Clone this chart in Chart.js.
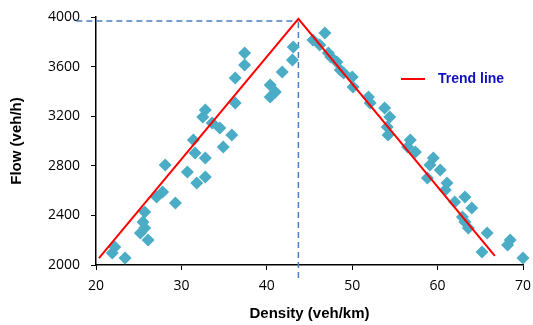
<!DOCTYPE html>
<html>
<head>
<meta charset="utf-8">
<script src="https://cdn.jsdelivr.net/npm/chart.js@4"></script>
<style>
  html,body{margin:0;padding:0;background:#fff}
  #wrap{width:533px;height:325px;position:relative}
</style>
</head>
<body>
<div id="wrap"><canvas id="chartFlow"></canvas></div>
<script>
// measured density (veh/km) and flow (veh/h)
const density = [21.9,22.2,23.4,25.2,25.7,25.5,25.7,26.1,27.1,27.8,28.1,29.3,30.7,31.6,31.8,32.8,31.4,32.8,32.8,32.5,33.6,34.5,34.9,35.9,36.3,36.3,37.4,37.4,40.4,41.0,40.4,41.8,43.0,43.1,
  45.4,46.8,46.2,47.2,47.5,48.2,48.6,49.0,50.0,50.1,51.9,52.1,53.8,54.4,54.1,54.2,56.8,56.5,57.4,59.5,59.1,60.3,58.8,61.1,60.9,62.0,63.2,64.0,62.9,63.2,63.6,65.8,65.2,68.5,68.2,70.0];
const flow = [2097,2145,2056,2258,2298,2347,2427,2202,2548,2589,2806,2500,2750,2903,2661,2710,3008,2863,3250,3194,3145,3105,2952,3048,3306,3508,3613,3710,3452,3395,3355,3556,3653,3758,
  3815,3871,3774,3710,3677,3637,3573,3548,3516,3435,3355,3306,3266,3194,3113,3048,3008,2952,2911,2863,2806,2766,2702,2661,2605,2508,2548,2460,2387,2347,2298,2258,2105,2202,2161,2056];

// trend line (two branches meeting at capacity)
const trendX = [20.35, 43.7, 66.7];
const trendY = [2056, 3985, 2073];

// guide lines to the peak
const guideVX = [43.7, 43.7];
const guideVY = [1895, 3968];
const guideHX = [17.7, 43.7];
const guideHY = [3968, 3968];

const xTicks = [20, 30, 40, 50, 60, 70];
const yTicks = [2000, 2400, 2800, 3200, 3600, 4000];

const pts = (xs, ys) => xs.map((x, i) => ({x: x, y: ys[i]}));

const legendInside = {
  id: 'legendInside',
  afterDraw(chart) {
    const ctx = chart.ctx;
    const ds = chart.data.datasets[0];
    ctx.save();
    ctx.strokeStyle = ds.borderColor;
    ctx.lineWidth = 2;
    ctx.beginPath();
    ctx.moveTo(401, 79);
    ctx.lineTo(425, 79);
    ctx.stroke();
    ctx.fillStyle = '#1010C0';
    ctx.font = 'bold 14px "Liberation Sans", Arial, sans-serif';
    ctx.textBaseline = 'middle';
    ctx.fillText(ds.label, 438, 79);
    ctx.restore();
  }
};

const tickFont = {family: '"Open Sans", sans-serif', size: 14};
const titleFont = {family: '"Liberation Sans", Arial, sans-serif', size: 15, weight: 'bold'};

new Chart(document.getElementById('chartFlow'), {
  type: 'scatter',
  data: {datasets: [
    {label: 'Trend line', data: pts(trendX, trendY), showLine: true, borderColor: '#FF0000', borderWidth: 2,
      pointRadius: 0, order: 0},
    {label: 'Observed', data: pts(density, flow), pointStyle: 'rectRot', pointRadius: 6.5,
      backgroundColor: '#4BACC6', borderWidth: 0, clip: 8, order: 1},
    {label: 'v', data: pts(guideVX, guideVY), showLine: true, borderColor: '#4A7EC4', borderWidth: 1.5,
      borderDash: [6, 4], pointRadius: 0, clip: false, order: 2},
    {label: 'h', data: pts(guideHX, guideHY), showLine: true, borderColor: '#4A7EC4', borderWidth: 1.5,
      borderDash: [6, 4], pointRadius: 0, clip: false, order: 2}
  ]},
  options: {
    responsive: true,
    maintainAspectRatio: false,
    animation: false,
    events: [],
    layout: {padding: {top: 17, right: 10, left: 0, bottom: 0}},
    plugins: {legend: {display: false}, tooltip: {enabled: false}},
    scales: {
      x: {
        type: 'linear', min: 20, max: 70,
        afterBuildTicks: s => { s.ticks = xTicks.map(v => ({value: v})); },
        afterFit: s => { s.height = 60; s.paddingRight = 0; s.paddingLeft = 0; },
        grid: {drawOnChartArea: false, drawTicks: true, tickLength: 5, color: '#000'},
        border: {color: '#000', width: 1.5},
        ticks: {color: '#000', padding: 8, font: tickFont, callback: v => String(v)},
        title: {display: true, text: 'Density (veh/km)', color: '#000', padding: {top: 0, bottom: 2}, font: titleFont}
      },
      y: {
        type: 'linear', min: 2000, max: 4000,
        afterBuildTicks: s => { s.ticks = yTicks.map(v => ({value: v})); },
        afterFit: s => { s.width = 96; s.paddingTop = 0; s.paddingBottom = 0; },
        grid: {drawOnChartArea: false, drawTicks: true, tickLength: 5, color: '#000'},
        border: {color: '#000', width: 1.5},
        ticks: {color: '#000', padding: 11, font: tickFont, callback: v => String(v)},
        title: {display: true, text: 'Flow (veh/h)', color: '#000', padding: {top: 8, bottom: 4}, font: titleFont}
      }
    }
  },
  plugins: [legendInside]
});
</script>
</body>
</html>
